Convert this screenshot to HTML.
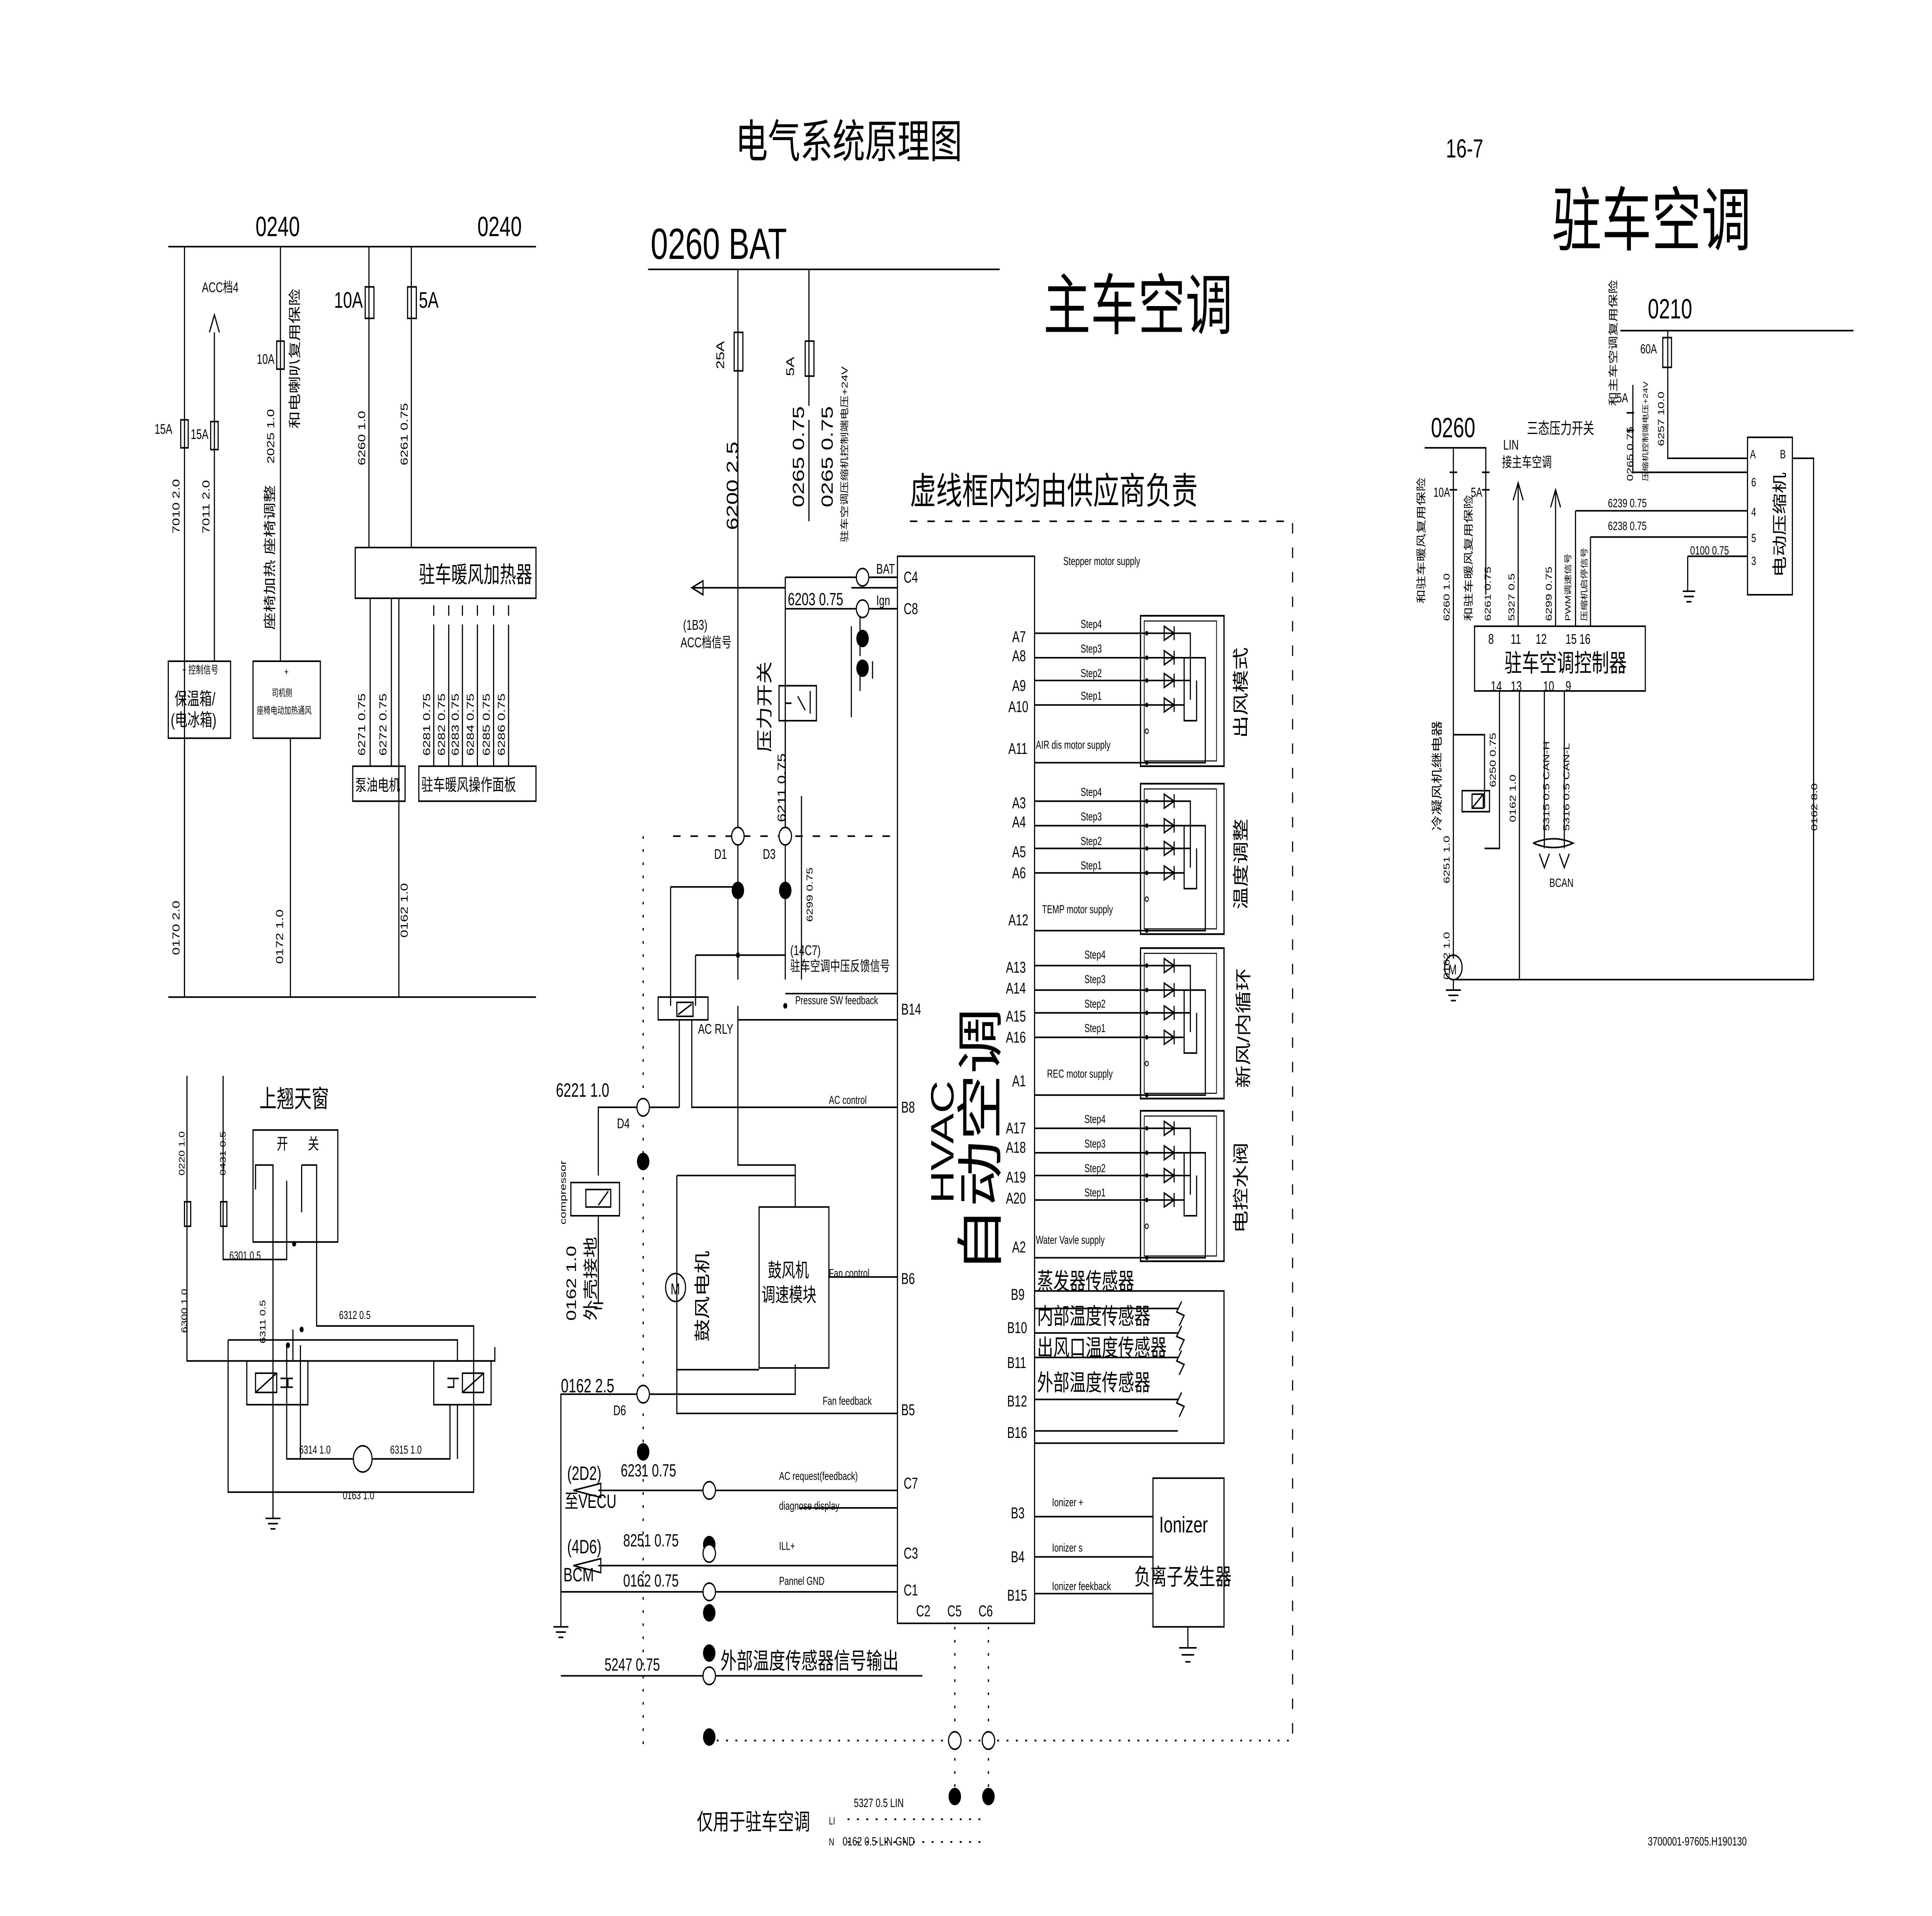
<!DOCTYPE html>
<html><head><meta charset="utf-8"><style>
html,body{margin:0;padding:0;background:#fff;width:100%;height:100%;overflow:hidden}
svg{display:block;position:absolute;left:0;top:0;width:100vw;height:100vh}
text{font-family:"Liberation Sans","Noto Sans CJK SC",sans-serif;fill:#000}
</style></head><body>
<svg viewBox="0 0 1550 1095.3" preserveAspectRatio="none" xmlns="http://www.w3.org/2000/svg">
<defs>
<g id="mod">
<rect x="915" y="0" width="67" height="86" fill="none" stroke="#000" stroke-width="1"/>
<rect x="918" y="3" width="58" height="80" fill="none" stroke="#000" stroke-width="0.6"/>
<g stroke="#000" stroke-width="0.9" fill="none">
<path d="M830 10H955V20M830 24H950V52M830 37H955M830 51H950V60H960V37M955 20V48M830 84H967V24H950"/>
</g>
<g fill="#000"><circle cx="920" cy="10" r="1.3"/><circle cx="920" cy="24" r="1.3"/><circle cx="920" cy="37" r="1.3"/><circle cx="920" cy="51" r="1.3"/><circle cx="920" cy="84" r="1.3"/></g>
<circle cx="920" cy="66" r="1.3" fill="none" stroke="#000" stroke-width="0.6"/>
<g stroke="#000" stroke-width="0.9" fill="none">
<path d="M934 6V14L942 10ZM942 6V14M934 20V28L942 24ZM942 20V28M934 33V41L942 37ZM942 33V41M934 47V55L942 51ZM942 47V55"/>
</g>
</g>
</defs>
<g stroke="#000" stroke-width="0.9" fill="none">
<path d="M135 141H430M148 141V570M172 190V378M225 141V378M296 141V313M330 141V313M135 570H430"/>
<path d="M168 190L172 180L176 190"/>
<rect x="145" y="240" width="6" height="16"/><rect x="169" y="241" width="6" height="16"/><rect x="222" y="195" width="6" height="16"/>
<rect x="293" y="164" width="7" height="18"/><rect x="327" y="164" width="7" height="18"/>
<rect x="285" y="313" width="145" height="29"/>
<rect x="135" y="378" width="50" height="44"/><rect x="203" y="378" width="54" height="44"/>
<path d="M148 422V570M233 422V570M297 342V438M314 342V438M320 342V570"/>
<path d="M348 346V352M348 357V372M360 346V352M360 357V372M371 346V352M371 357V372M383 346V352M383 357V372M396 346V352M396 357V372M408 346V352M408 357V372M348 372V438M360 372V438M371 372V438M383 372V438M396 372V438M408 372V438"/>
<rect x="283" y="438" width="42" height="20"/><rect x="336" y="438" width="94" height="20"/>
<path d="M150 615V778H397V770"/>
<rect x="148" y="687" width="5" height="14"/><rect x="177" y="687" width="5" height="14"/>
<path d="M179 615V720H230V675M205 680V666H219V693M230 675V693M242 666H254V693M242 666V693M254 666V758H380V778"/>
<rect x="203" y="646" width="68" height="64"/>
<path d="M219 666V853M183 766V853H380V778M183 766H367V778M235 760V778"/>
<rect x="198" y="778" width="49" height="25"/><rect x="348" y="778" width="46" height="25"/>
<rect x="205" y="785" width="17" height="11"/><path d="M205 796L222 785"/>
<rect x="371" y="785" width="17" height="11"/><path d="M371 796L388 785"/>
<path d="M225 788H230V793H225M235 788H231V793H235M359 788H364V793H359M368 788H364"/>
<path d="M230 769V834H284M241 769V834M299 834H361V803M367 803V834"/>
<circle cx="291" cy="834" r="7.5"/>
<path d="M219 853V868M213 868H225M215 871H223M217 874H221"/>
<path d="M520 154H802M592 154V560M649 154V232M649 240V298"/>
<rect x="589" y="190" width="7" height="22"/><rect x="646" y="195" width="7" height="20"/>
<path d="M555 336H630V330M630 330H720M630 336V560M683 336H720M630 348H720"/>
<path d="M555 336L564 332V340Z"/>
<rect x="625" y="392" width="30" height="20"/>
<path d="M630 402H635M650 395V408M640 398L646 406"/>
<path d="M630 412V478M643 455V560"/>
<path d="M683 358V410M690 350V375M690 380V395M700 378V388"/>
<path d="M538 507H592M538 507V575M558 546H630M558 546V575M592 575V583H720M630 568H720"/>
<rect x="528" y="570" width="40" height="13"/>
<rect x="543" y="573" width="13" height="8"/><path d="M544 580L555 574"/>
<path d="M545 583V633M555 583V633H720M545 633H480V672"/>
<path d="M592 583V666H638V690M543 672H638M543 672V808H720M543 783H609M638 780V797H450V930M720 730H665"/>
<rect x="609" y="690" width="56" height="92"/>
<circle cx="542" cy="736" r="8"/>
<path d="M458 676H497V695H458ZM470 680V690H490V680ZM480 689L488 681"/>
<path d="M480 695V745M476 745H484M477 748H483"/>
<path d="M444 930H456M446 933H454M448 936H452"/>
<path d="M480 852H720M460 852L482 848V856ZM480 895H720M460 895L482 891V899ZM450 910H720M641 862H720"/>
<path d="M450 958H740"/>
<rect x="720" y="318" width="110" height="610"/>
<path d="M720 330H700M720 348H700"/>
<rect x="830" y="738" width="152" height="87"/>
<path d="M830 748H945M830 762H945M830 776H945M830 800H945M830 818H945"/>
<path d="M948 744L944 750L950 752L946 758M948 758L944 764L950 766L946 772M948 772L944 778L950 780L946 786M948 796L944 802L950 804L946 810"/>
<rect x="925" y="845" width="57" height="85"/>
<path d="M830 867H925M830 890H925M830 911H925M953 930V942M946 942H960M948 946H958M951 950H955"/>
<path d="M1300 189H1487M1338 189V262H1402M1143 256H1192V340M1166 256V358M1218 276V358M1248 280V358M1310 220V270H1402M1264 292H1402M1264 292V358M1276 307H1402M1276 307V358M1354 318H1402M1354 318V338M1438 262H1455V560H1166"/>
<rect x="1334" y="193" width="7" height="17"/>
<path d="M1163 270H1169M1163 280H1169M1189 270H1195M1189 280H1195M1305 236H1311M1305 246H1311"/>
<path d="M1214 286L1218 276L1222 286M1244 290L1248 280L1252 290"/>
<rect x="1402" y="250" width="36" height="90"/>
<rect x="1183" y="358" width="137" height="37"/>
<path d="M1166 358V465M1166 420H1191V462M1203 395V485H1191M1219 395V560M1239 395V485M1255 395V485"/>
<rect x="1173" y="452" width="22" height="12"/><rect x="1181" y="454" width="9" height="8"/><path d="M1181 462L1190 454"/>
<path d="M1166 464V548M1166 560V566M1160 566H1172M1162 569H1170M1164 572H1168M1350 338H1360M1351 341H1359M1353 344H1357"/>
<circle cx="1166" cy="553" r="7"/>
<path d="M1235 488L1239 496L1243 488M1251 488L1255 496L1259 488M1230 482Q1247 477 1262 482Q1247 487 1230 482"/>
</g>
<use href="#mod" y="352"/><use href="#mod" y="448"/><use href="#mod" y="542"/><use href="#mod" y="635"/>
<g stroke="#000" stroke-width="0.9" fill="none" stroke-dasharray="6,8">
<path d="M730 298H1037V995M540 478H720"/>
</g>
<g stroke="#000" stroke-width="1" fill="none" stroke-dasharray="1.5,6">
<path d="M516 478V1000M575 995H1037M766 930V1030M793 930V1030"/>
<path d="M680 1040H790M680 1053H790"/>
</g>
<g fill="#000">
<ellipse cx="692" cy="365" rx="5" ry="5"/><ellipse cx="692" cy="382" rx="5" ry="5"/>
<ellipse cx="592" cy="509" rx="5" ry="5"/><ellipse cx="630" cy="509" rx="5" ry="5"/>
<ellipse cx="516" cy="664" rx="5" ry="5"/><ellipse cx="516" cy="830" rx="5" ry="5"/>
<ellipse cx="569" cy="883" rx="5" ry="5"/><ellipse cx="569" cy="922" rx="5" ry="5"/><ellipse cx="569" cy="945" rx="5" ry="5"/><ellipse cx="569" cy="993" rx="5" ry="5"/>
<ellipse cx="766" cy="1027" rx="5" ry="5"/><ellipse cx="793" cy="1027" rx="5" ry="5"/>
<circle cx="592" cy="546" r="1.6"/><circle cx="630" cy="575" r="1.6"/><circle cx="236" cy="711" r="1.6"/><circle cx="231" cy="769" r="1.6"/><circle cx="242" cy="760" r="1.6"/>
</g>
<g fill="#fff" stroke="#000" stroke-width="0.9">
<circle cx="692" cy="330" r="5"/><circle cx="692" cy="348" r="5"/><circle cx="592" cy="478" r="5"/><circle cx="630" cy="478" r="5"/>
<circle cx="516" cy="633" r="5"/><circle cx="516" cy="797" r="5"/><circle cx="569" cy="852" r="5"/><circle cx="569" cy="888" r="5"/><circle cx="569" cy="910" r="5"/><circle cx="569" cy="958" r="5"/>
<circle cx="766" cy="995" r="5"/><circle cx="793" cy="995" r="5"/>
</g>
<text x="590" y="90" font-size="26">电气系统原理图</text>
<text x="1160" y="90" font-size="15">16-7</text>
<text x="1245" y="140" font-size="40">驻车空调</text>
<text x="837" y="188" font-size="38">主车空调</text>
<text x="522" y="148" font-size="25">0260 BAT</text>
<text x="730" y="288" font-size="21">虚线框内均由供应商负责</text>
<text x="205" y="135" font-size="16">0240</text><text x="383" y="135" font-size="16">0240</text>
<text x="162" y="167" font-size="8">ACC档4</text>
<text x="124" y="248" font-size="8">15A</text><text x="153" y="251" font-size="8">15A</text><text x="206" y="208" font-size="8">10A</text>
<text x="268" y="176" font-size="13">10A</text><text x="336" y="176" font-size="13">5A</text>
<text x="336" y="333" font-size="13">驻车暖风加热器</text>
<text x="146" y="385" font-size="6">+ 控制信号</text>
<text x="140" y="403" font-size="10">保温箱/</text><text x="137" y="415" font-size="10">(电冰箱)</text>
<text x="228" y="386" font-size="6">+</text>
<text x="218" y="398" font-size="5.5">司机侧</text><text x="206" y="408" font-size="5.5">座椅电动加热通风</text>
<text x="285" y="452" font-size="9">泵油电机</text><text x="338" y="452" font-size="9.5">驻车暖风操作面板</text>
<g font-size="8">
<text transform="translate(144,305) rotate(-90)">7010 2.0</text>
<text transform="translate(168,305) rotate(-90)">7011 2.0</text>
<text transform="translate(220,265) rotate(-90)">2025 1.0</text>
<text transform="translate(220,360) rotate(-90)" font-size="10">座椅加热 座椅调整</text>
<text transform="translate(240,245) rotate(-90)" font-size="10">和电喇叭复用保险</text>
<text transform="translate(293,266) rotate(-90)">6260 1.0</text>
<text transform="translate(327,266) rotate(-90)">6261 0.75</text>
<text transform="translate(293,432) rotate(-90)">6271 0.75</text>
<text transform="translate(310,432) rotate(-90)">6272 0.75</text>
<text transform="translate(345,432) rotate(-90)">6281 0.75</text>
<text transform="translate(357,432) rotate(-90)">6282 0.75</text>
<text transform="translate(368,432) rotate(-90)">6283 0.75</text>
<text transform="translate(380,432) rotate(-90)">6284 0.75</text>
<text transform="translate(393,432) rotate(-90)">6285 0.75</text>
<text transform="translate(405,432) rotate(-90)">6286 0.75</text>
<text transform="translate(144,546) rotate(-90)">0170 2.0</text>
<text transform="translate(227,551) rotate(-90)">0172 1.0</text>
<text transform="translate(327,536) rotate(-90)">0162 1.0</text>
</g>
<text x="208" y="633" font-size="14">上翘天窗</text>
<text x="222" y="657" font-size="9">开</text><text x="247" y="657" font-size="9">关</text>
<g font-size="6.5">
<text transform="translate(148,672) rotate(-90)">0220 1.0</text>
<text transform="translate(181,672) rotate(-90)">0431 0.5</text>
<text transform="translate(150,762) rotate(-90)">6300 1.0</text>
<text transform="translate(213,768) rotate(-90)">6311 0.5</text>
<text x="184" y="720">6301 0.5</text><text x="272" y="754">6312 0.5</text>
<text x="240" y="831">6314 1.0</text><text x="313" y="831">6315 1.0</text><text x="275" y="857">0163 1.0</text>
</g>
<text x="576" y="206" font-size="9" transform="rotate(-90 581 206)">25A</text>
<text x="632" y="210" font-size="9" transform="rotate(-90 637 210)">5A</text>
<g font-size="13">
<text transform="translate(592,303) rotate(-90)">6200 2.5</text>
<text transform="translate(645,290) rotate(-90)">0265 0.75</text>
<text transform="translate(668,290) rotate(-90)">0265 0.75</text>
<text transform="translate(618,430) rotate(-90)">压力开关</text>
</g>
<text transform="translate(680,310) rotate(-90)" font-size="7">驻车空调压缩机控制端电压+24V</text>
<text transform="translate(630,470) rotate(-90)" font-size="9">6211 0.75</text>
<text transform="translate(652,527) rotate(-90)" font-size="7">6299 0.75</text>
<g font-size="8">
<text x="703" y="328">BAT</text><text x="703" y="346">Ign</text>
<text x="632" y="346" font-size="10">6203 0.75</text>
<text x="548" y="360">(1B3)</text><text x="546" y="370">ACC档信号</text>
<text x="573" y="491">D1</text><text x="612" y="491">D3</text>
<text x="634" y="546">(14C7)</text><text x="634" y="555">驻车空调中压反馈信号</text>
<text x="638" y="574" font-size="6.5">Pressure SW feedback</text>
<text x="560" y="591">AC RLY</text>
<text x="665" y="631" font-size="6.5">AC control</text>
<text x="665" y="730" font-size="6.5">Fan control</text>
<text x="660" y="803" font-size="6.5">Fan feedback</text>
<text x="625" y="846" font-size="6.5">AC request(feedback)</text>
<text x="625" y="863" font-size="6.5">diagnose display</text>
<text x="625" y="886" font-size="6.5">ILL+</text>
<text x="625" y="906" font-size="6.5">Pannel GND</text>
<text x="495" y="645">D4</text><text x="492" y="809">D6</text>
</g>
<text x="446" y="627" font-size="11">6221 1.0</text>
<text x="450" y="796" font-size="11">0162 2.5</text>
<text x="455" y="846" font-size="11">(2D2)</text><text x="453" y="862" font-size="11">至VECU</text>
<text x="498" y="844" font-size="10">6231 0.75</text>
<text x="455" y="888" font-size="11">(4D6)</text><text x="452" y="904" font-size="11">BCM</text>
<text x="500" y="884" font-size="10">8251 0.75</text>
<text x="500" y="907" font-size="10">0162 0.75</text>
<text x="485" y="955" font-size="10">5247 0.75</text>
<text x="578" y="954" font-size="13">外部温度传感器信号输出</text>
<text x="559" y="1046" font-size="13">仅用于驻车空调</text>
<text x="665" y="1043" font-size="6">LI</text><text x="665" y="1055" font-size="6">N</text>
<text x="685" y="1033" font-size="7">5327 0.5 LIN</text><text x="676" y="1055" font-size="7">0162 0.5 LIN-GND</text>
<text transform="translate(454,700) rotate(-90)" font-size="7">compressor</text>
<text transform="translate(462,755) rotate(-90)" font-size="11">0162 1.0</text>
<text transform="translate(478,755) rotate(-90)" font-size="12">外壳接地</text>
<text transform="translate(568,767) rotate(-90)" font-size="13">鼓风电机</text>
<text x="538" y="740" font-size="9">M</text>
<text x="616" y="730" font-size="11">鼓风机</text><text x="611" y="744" font-size="11">调速模块</text>
<text transform="translate(765,688) rotate(-90)" font-size="26">HVAC</text>
<text transform="translate(800,728) rotate(-90)" font-size="38">自动空调</text>
<g font-size="9">
<text x="725" y="333">C4</text><text x="725" y="351">C8</text><text x="723" y="580">B14</text><text x="723" y="636">B8</text>
<text x="723" y="734">B6</text><text x="723" y="809">B5</text><text x="725" y="851">C7</text><text x="725" y="891">C3</text><text x="725" y="912">C1</text>
<text x="735" y="924">C2</text><text x="760" y="924">C5</text><text x="785" y="924">C6</text>
<text x="812" y="367">A7</text><text x="812" y="378">A8</text><text x="812" y="395">A9</text><text x="809" y="407">A10</text><text x="809" y="431">A11</text>
<text x="812" y="462">A3</text><text x="812" y="473">A4</text><text x="812" y="490">A5</text><text x="812" y="502">A6</text><text x="809" y="529">A12</text>
<text x="807" y="556">A13</text><text x="807" y="568">A14</text><text x="807" y="584">A15</text><text x="807" y="596">A16</text><text x="812" y="621">A1</text>
<text x="807" y="648">A17</text><text x="807" y="659">A18</text><text x="807" y="676">A19</text><text x="807" y="688">A20</text><text x="812" y="716">A2</text>
<text x="811" y="743">B9</text><text x="808" y="762">B10</text><text x="808" y="782">B11</text><text x="808" y="804">B12</text><text x="808" y="822">B16</text>
<text x="811" y="868">B3</text><text x="811" y="893">B4</text><text x="808" y="915">B15</text>
</g>
<g font-size="6.5">
<text x="853" y="323">Stepper motor supply</text>
<text x="867" y="359">Step4</text><text x="867" y="373">Step3</text><text x="867" y="387">Step2</text><text x="867" y="400">Step1</text><text x="831" y="428">AIR dis motor supply</text>
<text x="867" y="455">Step4</text><text x="867" y="469">Step3</text><text x="867" y="483">Step2</text><text x="867" y="497">Step1</text><text x="836" y="522">TEMP motor supply</text>
<text x="870" y="548">Step4</text><text x="870" y="562">Step3</text><text x="870" y="576">Step2</text><text x="870" y="590">Step1</text><text x="840" y="616">REC motor supply</text>
<text x="870" y="642">Step4</text><text x="870" y="656">Step3</text><text x="870" y="670">Step2</text><text x="870" y="684">Step1</text><text x="831" y="711">Water Vavle  supply</text>
<text x="844" y="861">Ionizer +</text><text x="844" y="887">Ionizer s</text><text x="844" y="909">Ionizer feekback</text>
</g>
<g font-size="13">
<text transform="translate(1000,422) rotate(-90)">出风模式</text>
<text transform="translate(1000,520) rotate(-90)">温度调整</text>
<text transform="translate(1002,622) rotate(-90)">新风/内循环</text>
<text transform="translate(1000,705) rotate(-90)">电控水阀</text>
<text x="832" y="737">蒸发器传感器</text><text x="832" y="757">内部温度传感器</text><text x="832" y="775">出风口温度传感器</text><text x="832" y="795">外部温度传感器</text>
<text x="930" y="876">Ionizer</text><text x="910" y="906">负离子发生器</text>
</g>
<text x="1322" y="182" font-size="16">0210</text>
<text x="1148" y="250" font-size="16">0260</text>
<text x="1225" y="248" font-size="9">三态压力开关</text>
<text x="1206" y="257" font-size="8">LIN</text><text x="1205" y="267" font-size="8">接主车空调</text>
<text x="1316" y="202" font-size="7.5">60A</text><text x="1297" y="230" font-size="7.5">5A</text>
<text x="1150" y="284" font-size="7.5">10A</text><text x="1180" y="284" font-size="7.5">5A</text>
<g font-size="7">
<text transform="translate(1297,232) rotate(-90)" font-size="8">和主车空调复用保险</text>
<text transform="translate(1310,275) rotate(-90)">0265 0.75</text>
<text transform="translate(1322,275) rotate(-90)" font-size="5.5">压缩机控制端电压+24V</text>
<text transform="translate(1335,255) rotate(-90)">6257 10.0</text>
<text transform="translate(1143,345) rotate(-90)" font-size="8">和驻车暖风复用保险</text>
<text transform="translate(1181,355) rotate(-90)" font-size="8">和驻车暖风复用保险</text>
<text transform="translate(1163,355) rotate(-90)">6260 1.0</text>
<text transform="translate(1196,355) rotate(-90)">6261 0.75</text>
<text transform="translate(1215,355) rotate(-90)">5327 0.5</text>
<text transform="translate(1245,355) rotate(-90)">6299 0.75</text>
<text transform="translate(1260,355) rotate(-90)" font-size="6">PWM调速信号</text>
<text transform="translate(1273,355) rotate(-90)" font-size="6">压缩机启停信号</text>
<text x="1290" y="290">6239 0.75</text><text x="1290" y="303">6238 0.75</text><text x="1356" y="317">0100 0.75</text>
<text x="1404" y="262">A</text><text x="1428" y="262">B</text><text x="1405" y="278">6</text><text x="1405" y="295">4</text><text x="1405" y="310">5</text><text x="1405" y="323">3</text>
<text transform="translate(1200,450) rotate(-90)">6250 0.75</text>
<text transform="translate(1216,470) rotate(-90)">0162 1.0</text>
<text transform="translate(1243,475) rotate(-90)">5315 0.5 CAN-H</text>
<text transform="translate(1259,475) rotate(-90)">5316 0.5 CAN-L</text>
<text transform="translate(1458,475) rotate(-90)">0162 8.0</text>
<text transform="translate(1163,505) rotate(-90)">6251 1.0</text>
<text transform="translate(1163,560) rotate(-90)">0162 1.0</text>
<text x="1243" y="507">BCAN</text>
</g>
<text transform="translate(1156,475) rotate(-90)" font-size="9">冷凝风机继电器</text>
<text transform="translate(1432,330) rotate(-90)" font-size="12">电动压缩机</text>
<text x="1194" y="368" font-size="8">8</text><text x="1212" y="368" font-size="8">11</text><text x="1232" y="368" font-size="8">12</text><text x="1256" y="368" font-size="8">15 16</text>
<text x="1196" y="395" font-size="8">14</text><text x="1212" y="395" font-size="8">13</text><text x="1238" y="395" font-size="8">10</text><text x="1256" y="395" font-size="8">9</text>
<text x="1207" y="384" font-size="14">驻车空调控制器</text>
<text x="1162" y="557" font-size="8">M</text>
<text x="1322" y="1055" font-size="7">3700001-97605.H190130</text>
</svg>
</body></html>
